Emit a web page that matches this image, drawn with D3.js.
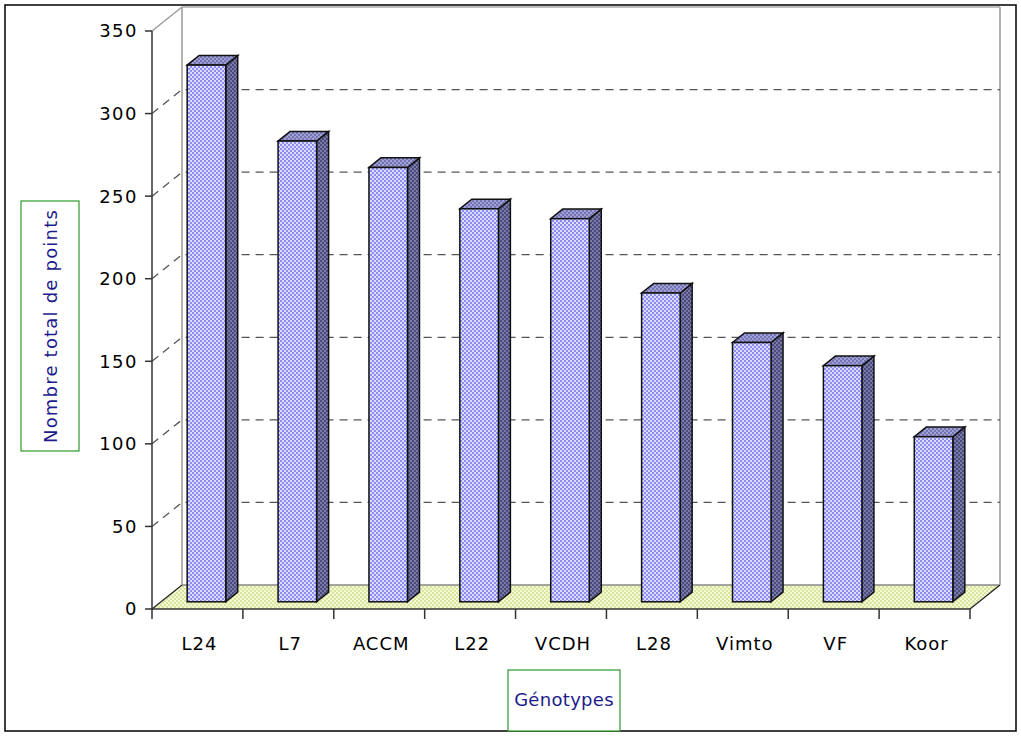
<!DOCTYPE html>
<html>
<head>
<meta charset="utf-8">
<script src="https://cdn.jsdelivr.net/npm/d3@7"></script>
<style>
  html, body { margin: 0; padding: 0; background: #fff; }
  svg { display: block; }
  text { font-family: "DejaVu Sans", Verdana, sans-serif; }
</style>
</head>
<body>
<svg id="chart" width="1021" height="740"></svg>
<script>
// Total points per genotype
const categories = ["L24", "L7", "ACCM", "L22", "VCDH", "L28", "Vimto", "VF", "Koor"];
const totals = [325, 279, 263, 238, 232, 187, 157, 143, 100];
const yTicks = [0, 50, 100, 150, 200, 250, 300, 350];
const yTitle = "Nombre total de points";
const xTitle = "Génotypes";

const svg = d3.select("#chart");

// Plot frame (front plane) and 3D depth offset
const plotLeft = 152, plotRight = 970, plotBottom = 609, plotTop = 31;
const depthX = 30, depthY = -24;

const x = d3.scaleBand().domain(categories).range([plotLeft, plotRight]).padding(0);
const y = d3.scaleLinear().domain([0, 350]).range([plotBottom, plotTop]);

// Fill patterns (dithered faces)
const defs = svg.append("defs");
function checker(id, a, b) {
  const p = defs.append("pattern").attr("id", id)
    .attr("width", 4).attr("height", 4).attr("patternUnits", "userSpaceOnUse");
  p.append("rect").attr("width", 4).attr("height", 4).attr("fill", a);
  p.append("rect").attr("x", 0).attr("y", 0).attr("width", 2).attr("height", 2).attr("fill", b);
  p.append("rect").attr("x", 2).attr("y", 2).attr("width", 2).attr("height", 2).attr("fill", b);
}
checker("front", "#dcdcff", "#8c8cf2");
checker("side", "#7a7aa6", "#4a4a7e");
checker("topf", "#a0a0d6", "#7474b2");
checker("floor", "#f6fad2", "#d8e4a0");

// Outer border
svg.append("rect").attr("x", 5).attr("y", 5).attr("width", 1011).attr("height", 726)
  .attr("fill", "none").attr("stroke", "#000").attr("stroke-width", 1.5);

// Floor
const floorPts = [[plotLeft, plotBottom], [plotRight, plotBottom],
  [plotRight + depthX, plotBottom + depthY], [plotLeft + depthX, plotBottom + depthY]];
svg.append("path")
  .attr("d", d3.line()(floorPts) + "Z")
  .attr("fill", "url(#floor)").attr("stroke", "none");
svg.append("line").attr("x1", plotLeft + depthX).attr("y1", plotBottom + depthY)
  .attr("x2", plotRight + depthX).attr("y2", plotBottom + depthY)
  .attr("stroke", "#888").attr("stroke-width", 1.5);
svg.append("line").attr("x1", plotLeft).attr("y1", plotBottom)
  .attr("x2", plotLeft + depthX).attr("y2", plotBottom + depthY)
  .attr("stroke", "#222").attr("stroke-width", 1.2);
svg.append("line").attr("x1", plotRight).attr("y1", plotBottom)
  .attr("x2", plotRight + depthX).attr("y2", plotBottom + depthY)
  .attr("stroke", "#222").attr("stroke-width", 1.2);

// Walls: left and back edges
svg.append("line").attr("x1", plotLeft + depthX).attr("y1", plotTop + depthY)
  .attr("x2", plotLeft + depthX).attr("y2", plotBottom + depthY)
  .attr("stroke", "#999").attr("stroke-width", 1.5);
svg.append("line").attr("x1", plotRight + depthX).attr("y1", plotTop + depthY)
  .attr("x2", plotRight + depthX).attr("y2", plotBottom + depthY)
  .attr("stroke", "#999").attr("stroke-width", 1.5);
svg.append("line").attr("x1", plotLeft).attr("y1", plotTop)
  .attr("x2", plotLeft + depthX).attr("y2", plotTop + depthY)
  .attr("stroke", "#999").attr("stroke-width", 1.5);
svg.append("line").attr("x1", plotLeft + depthX).attr("y1", plotTop + depthY)
  .attr("x2", plotRight + depthX).attr("y2", plotTop + depthY)
  .attr("stroke", "#aaa").attr("stroke-width", 1.5);

// Dashed gridlines across side and back walls
const grid = svg.append("g").attr("fill", "none")
  .attr("stroke", "#555").attr("stroke-width", 1.3).attr("stroke-dasharray", "8,6");
yTicks.filter(t => t > 0 && t < 350).forEach(t => {
  const yy = y(t);
  grid.append("path").attr("d", d3.line()([
    [plotLeft, yy], [plotLeft + depthX, yy + depthY], [plotRight + depthX, yy + depthY]
  ]));
});

// Y axis
const yAxis = svg.append("g");
yAxis.append("line").attr("x1", plotLeft).attr("x2", plotLeft).attr("y1", plotTop).attr("y2", plotBottom)
  .attr("stroke", "#333").attr("stroke-width", 1.5);
yTicks.forEach(t => {
  yAxis.append("line").attr("x1", plotLeft - 7).attr("x2", plotLeft).attr("y1", y(t)).attr("y2", y(t))
    .attr("stroke", "#333").attr("stroke-width", 1.5);
  yAxis.append("text").attr("x", plotLeft - 14).attr("y", y(t)).attr("dy", "0.36em")
    .attr("text-anchor", "end").attr("font-size", 18).attr("fill", "#000")
    .attr("letter-spacing", 1.5).text(t);
});

// X axis
const xAxis = svg.append("g");
xAxis.append("line").attr("x1", plotLeft).attr("x2", plotRight).attr("y1", plotBottom).attr("y2", plotBottom)
  .attr("stroke", "#333").attr("stroke-width", 1.5);
d3.range(categories.length + 1).forEach(i => {
  const xx = plotLeft + i * x.bandwidth();
  xAxis.append("line").attr("x1", xx).attr("x2", xx).attr("y1", plotBottom).attr("y2", plotBottom + 10)
    .attr("stroke", "#333").attr("stroke-width", 1.5);
});
categories.forEach(c => {
  xAxis.append("text").attr("x", x(c) + x.bandwidth() / 2 + 2).attr("y", 650)
    .attr("text-anchor", "middle").attr("font-size", 18).attr("fill", "#000")
    .attr("letter-spacing", 1).text(c);
});

// 3D bars: front face set 30% into the depth, bar depth 40%
const fShift = 0.3, bDepth = 0.4;
const barW = x.bandwidth() * 0.424;
const bars = svg.append("g").attr("stroke", "#111").attr("stroke-width", 1.5)
  .attr("stroke-linejoin", "miter");
categories.forEach((c, i) => {
  const cx = x(c) + x.bandwidth() / 2 + depthX * fShift;
  const xl = cx - barW / 2, xr = cx + barW / 2;
  const yb = y(0) + depthY * fShift;
  const yt = y(totals[i]) + depthY * fShift;
  const sx = depthX * bDepth, sy = depthY * bDepth;
  const g = bars.append("g");
  g.append("path").attr("fill", "url(#side)")
    .attr("d", d3.line()([[xr, yt], [xr + sx, yt + sy], [xr + sx, yb + sy], [xr, yb]]) + "Z");
  g.append("path").attr("fill", "url(#topf)")
    .attr("d", d3.line()([[xl, yt], [xr, yt], [xr + sx, yt + sy], [xl + sx, yt + sy]]) + "Z");
  g.append("rect").attr("fill", "url(#front)")
    .attr("x", xl).attr("y", yt).attr("width", barW).attr("height", yb - yt);
});

// Axis titles in boxes
const navy = "#1c1c8c", boxGreen = "#2e9a2e";
svg.append("rect").attr("x", 21).attr("y", 201).attr("width", 58).attr("height", 250)
  .attr("fill", "#fff").attr("stroke", boxGreen).attr("stroke-width", 1.2);
svg.append("text").attr("transform", "translate(51,326) rotate(-90)")
  .attr("text-anchor", "middle").attr("dy", "0.36em").attr("font-size", 18)
  .attr("fill", navy).attr("letter-spacing", 1.2).text(yTitle);

svg.append("rect").attr("x", 508).attr("y", 670).attr("width", 112).attr("height", 61)
  .attr("fill", "#fff").attr("stroke", boxGreen).attr("stroke-width", 1.2);
svg.append("text").attr("x", 564).attr("y", 700).attr("dy", "0.36em")
  .attr("text-anchor", "middle").attr("font-size", 18).attr("fill", navy)
  .attr("letter-spacing", 0.3).text(xTitle);
</script>
</body>
</html>
